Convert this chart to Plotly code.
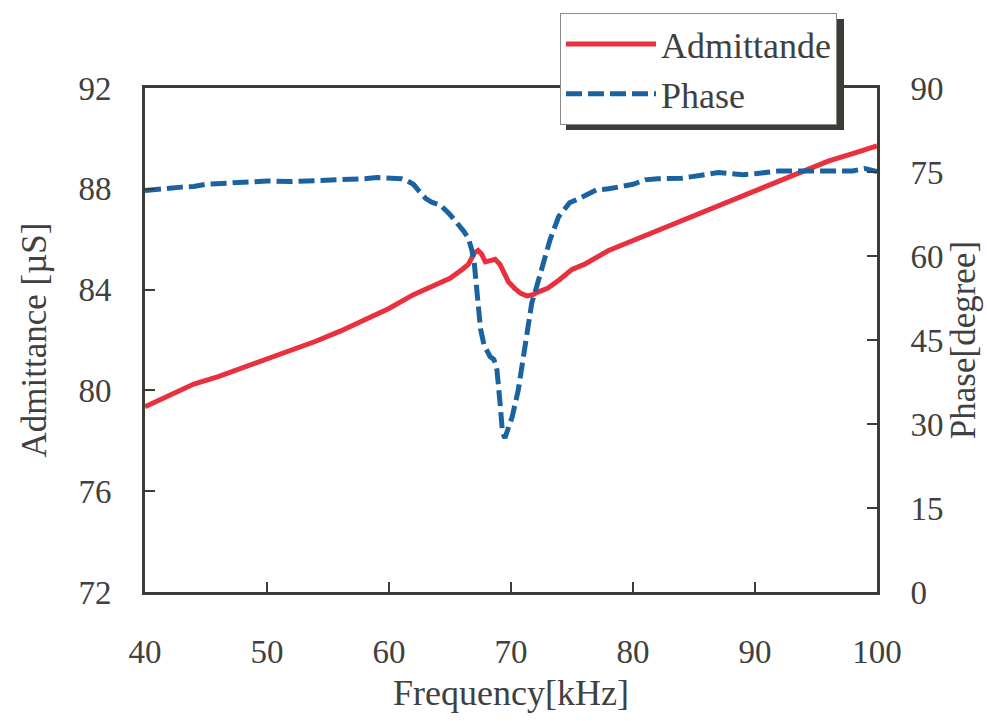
import plotly.graph_objects as go

# ---- data ----
freq_adm = [40, 42, 44, 46, 48, 50, 52, 54, 56, 58, 60, 62, 63, 64, 65, 66, 66.5, 67, 67.3,
            67.6, 67.9, 68.3, 68.7, 69.1, 69.5, 69.8, 70.3, 70.8, 71.3, 71.8, 72.2, 73, 74,
            75, 76, 77, 78, 79, 80, 82, 84, 86, 88, 90, 92, 94, 96, 98, 100]
admittance = [79.35, 79.8, 80.25, 80.55, 80.9, 81.2, 81.55, 81.95, 82.35, 82.8, 83.25, 83.8,
              84.0, 84.2, 84.45, 84.8, 85.0, 85.45, 85.55, 85.4, 85.1, 85.15, 85.2, 85.0,
              84.6, 84.3, 84.05, 83.85, 83.75, 83.8, 83.9, 84.05, 84.4, 84.8, 85.0, 85.3,
              85.55, 85.75, 85.95, 86.3, 86.75, 87.15, 87.55, 87.95, 88.3, 88.75, 89.1,
              89.4, 89.7]

freq_phase = [40, 41, 42, 43, 44, 45, 46, 48, 50, 52, 54, 56, 58, 59, 60, 61, 61.5, 62, 62.5,
              63, 63.5, 64.2, 65, 65.6, 66.1, 66.5, 66.8, 67.0, 67.2, 67.5, 67.8, 68.3, 68.6,
              68.85, 69.1, 69.3, 69.5, 69.8, 70.1, 70.6, 71.0, 71.3, 71.7, 72.1, 72.6, 73.2,
              73.9, 74.8, 76, 77, 78, 79, 80, 81, 82, 84, 86, 87, 88, 89, 90, 92, 94, 96,
              98, 99, 100]
phase = [71.7, 72.0, 72.1, 72.3, 72.4, 72.8, 72.9, 73.1, 73.4, 73.3, 73.4, 73.5, 73.8, 74.0,
         74.0, 73.8, 73.4, 72.8, 71.5, 70.3, 69.6, 69.1, 67.4, 65.9, 64.5, 63.2, 61.0, 58.5,
         53.5, 47.0, 44.0, 42.0, 41.5, 39.6, 33.8, 28.5, 27.5, 29.5, 31.3, 36.1, 42.0, 45.5,
         51.6, 54.5, 58.0, 62.9, 67.0, 69.5, 70.7, 71.8, 72.0, 72.3, 72.8, 73.6, 73.8, 73.9,
         74.7, 74.9, 74.7, 74.5, 74.7, 75.2, 75.2, 75.2, 75.2, 75.6, 75.1]

x_ticks = [40, 50, 60, 70, 80, 90, 100]
y1_ticks = [72, 76, 80, 84, 88, 92]
y2_ticks = [0, 15, 30, 45, 60, 75, 90]

# ---- style ----
FONT = "Liberation Serif"
TXT = "#404040"
AX = "#3c3c37"
RED = "#e8303f"
BLUE = "#1a62a0"

W, H = 987, 721
L, R, T, B = 145, 110, 88, 129
pw, ph = W - L - R, H - T - B

fig = go.Figure()
fig.add_trace(go.Scatter(x=freq_adm, y=admittance, mode="lines", name="Admittande",
                         line=dict(color=RED, width=5), legendgroup="a"))
fig.add_trace(go.Scatter(x=freq_phase, y=phase, mode="lines", name="Phase", yaxis="y2",
                         line=dict(color=BLUE, width=5, dash="16px,6px"), legendgroup="b"))

axis_common = dict(showline=True, linewidth=3, linecolor=AX, ticks="inside", ticklen=10,
                   tickwidth=1.5, tickcolor=AX, showgrid=False, zeroline=False,
                   tickfont=dict(family=FONT, size=33, color=TXT))

fig.update_layout(
    width=W, height=H,
    margin=dict(l=L, r=R, t=T, b=B),
    paper_bgcolor="white", plot_bgcolor="white",
    font=dict(family=FONT, color=TXT),
    xaxis=dict(range=[40, 100], tickvals=x_ticks, mirror=True, ticklabelstandoff=28,
               title=dict(text="Frequency[kHz]", font=dict(family=FONT, size=36, color=TXT),
                          standoff=12),
               **axis_common),
    yaxis=dict(range=[72, 92], tickvals=y1_ticks, ticklabelstandoff=24,
               title=dict(text="Admittance [µS]", font=dict(family=FONT, size=35, color=TXT),
                          standoff=22),
               **axis_common),
    yaxis2=dict(range=[0, 90], tickvals=y2_ticks, overlaying="y", side="right",
                ticklabelstandoff=24,
                title=dict(text="Phase[degree]", font=dict(family=FONT, size=35, color=TXT),
                           standoff=2),
                **axis_common),
    showlegend=True,
    legend=dict(x=(560 - L) / pw, y=(H - B - 13) / ph, xanchor="left", yanchor="top",
                bgcolor="white", bordercolor="#8a8a8a", borderwidth=1,
                font=dict(family=FONT, size=36, color=TXT),
                itemwidth=90, tracegroupgap=0),
    shapes=[dict(type="rect", xref="paper", yref="paper",
                 x0=(566 - L) / pw, x1=(844 - L) / pw,
                 y0=(H - B - 130) / ph, y1=(H - B - 19) / ph,
                 fillcolor="#3d3d38", line=dict(width=0), layer="above")],
)

fig.write_html("out.html")
